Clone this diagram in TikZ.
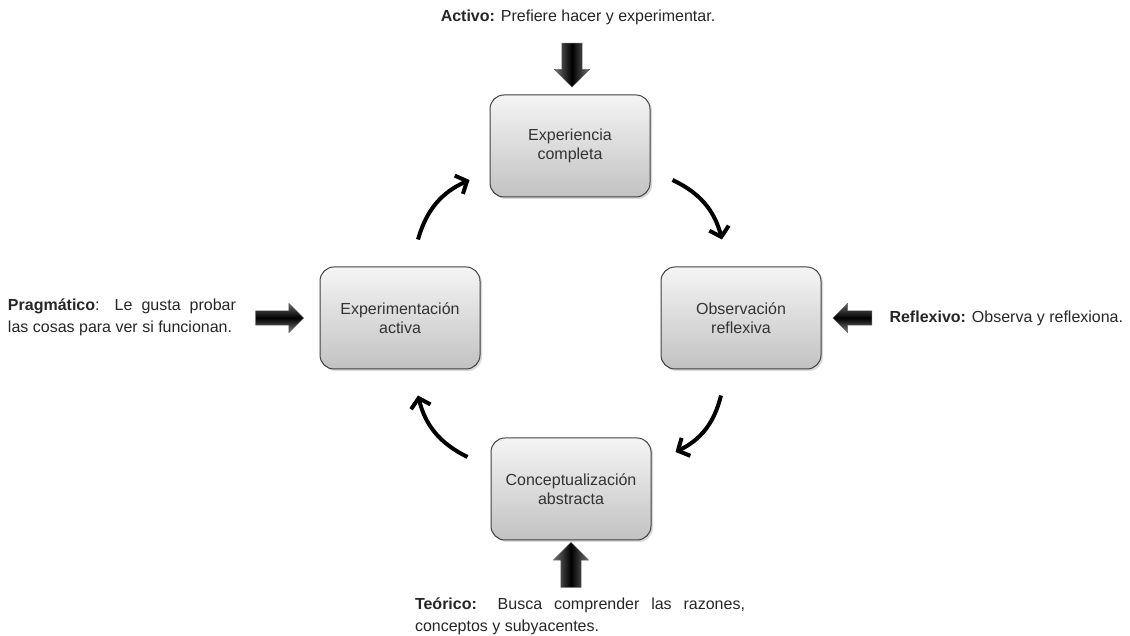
\documentclass[tikz,border=0pt]{standalone}
\usepackage{fontspec}
\setmainfont{Liberation Sans}
\usetikzlibrary{shapes.arrows,shadows,arrows.meta,calc}
\hyphenpenalty=10000
\exhyphenpenalty=10000

\begin{document}
\begin{tikzpicture}[x=1pt, y=1pt,
    box/.style={draw=black!75, line width=1pt, rounded corners=14pt,
        minimum width=160pt, minimum height=102pt, align=center,
        top color=black!4, bottom color=black!24, text=black!80,
        font=\fontsize{16}{19}\selectfont,
        drop shadow={opacity=0.3, shadow xshift=2pt, shadow yshift=-2pt}},
    flecha/.style={single arrow, draw=black!60, inner sep=0pt},
    flechaH/.style={flecha, single arrow head extend=7.5pt,
        top color=black!60, bottom color=black!50, middle color=black},
    flechaV/.style={flecha, single arrow head extend=7.5pt,
        left color=black!55, right color=black!55, middle color=black},
    ciclo/.style={line width=4pt, -{Straight Barb[length=9pt, width=20pt]}},
    texto/.style={font=\fontsize{16}{22}\selectfont, text=black!85}]
    \useasboundingbox (0,0) rectangle (1130,636);

    % las cuatro etapas
    \node[box] (ec) at (570,490) {Experiencia\\completa};
    \node[box] (ea) at (400,318) {Experimentación\\activa};
    \node[box] (eo) at (741,318) {Observación\\reflexiva};
    \node[box] (cc) at (571,147) {Conceptualización\\abstracta};

    % ciclo
    \draw[ciclo] ($(ea.north)+(18,27)$) to[bend left=25] ($(ec.west)+(-20,-34)$);
    \draw[ciclo] ($(ec.east)+(22,-34)$) to[bend left=25] ($(eo.north)+(-19,27)$);
    \draw[ciclo] ($(eo.south)+(-20,-26)$) to[bend left=25] ($(cc.east)+(24,37)$);
    \draw[ciclo] ($(cc.west)+(-23,32)$) to[bend left=25] ($(ea.south)+(18,-26)$);

    % estilos de aprendizaje
    \node[texto] (activo) at (578,619) {\textbf{Activo:} Prefiere hacer y experimentar.};
    \node[flechaV, minimum height=44pt, rotate=-90] (fActivo) at (572,576) {\rule{0pt}{20pt}};

    \node[texto, text width=228pt, align=justify] (pragm) at (122,319)
        {\textbf{Pragmático}: Le gusta probar las cosas para ver si funcionan.};
    \node[flechaH, minimum height=48pt] (fPragm) at (276,318) {\rule{0pt}{14pt}};

    \node[texto, anchor=west] (reflex) at (886,318) {\textbf{Reflexivo:} Observa y reflexiona.};
    \node[flechaH, minimum height=39pt, rotate=180] (fReflex) at (856,318) {\rule{0pt}{14pt}};

    \node[texto, text width=330pt, align=justify] (teor) at (580,20)
        {\textbf{Teórico:} Busca comprender las razones, conceptos y subyacentes.};
    \node[flechaV, minimum height=45pt, rotate=90] (fTeor) at (571,66) {\rule{0pt}{20pt}};
\end{tikzpicture}
\end{document}
